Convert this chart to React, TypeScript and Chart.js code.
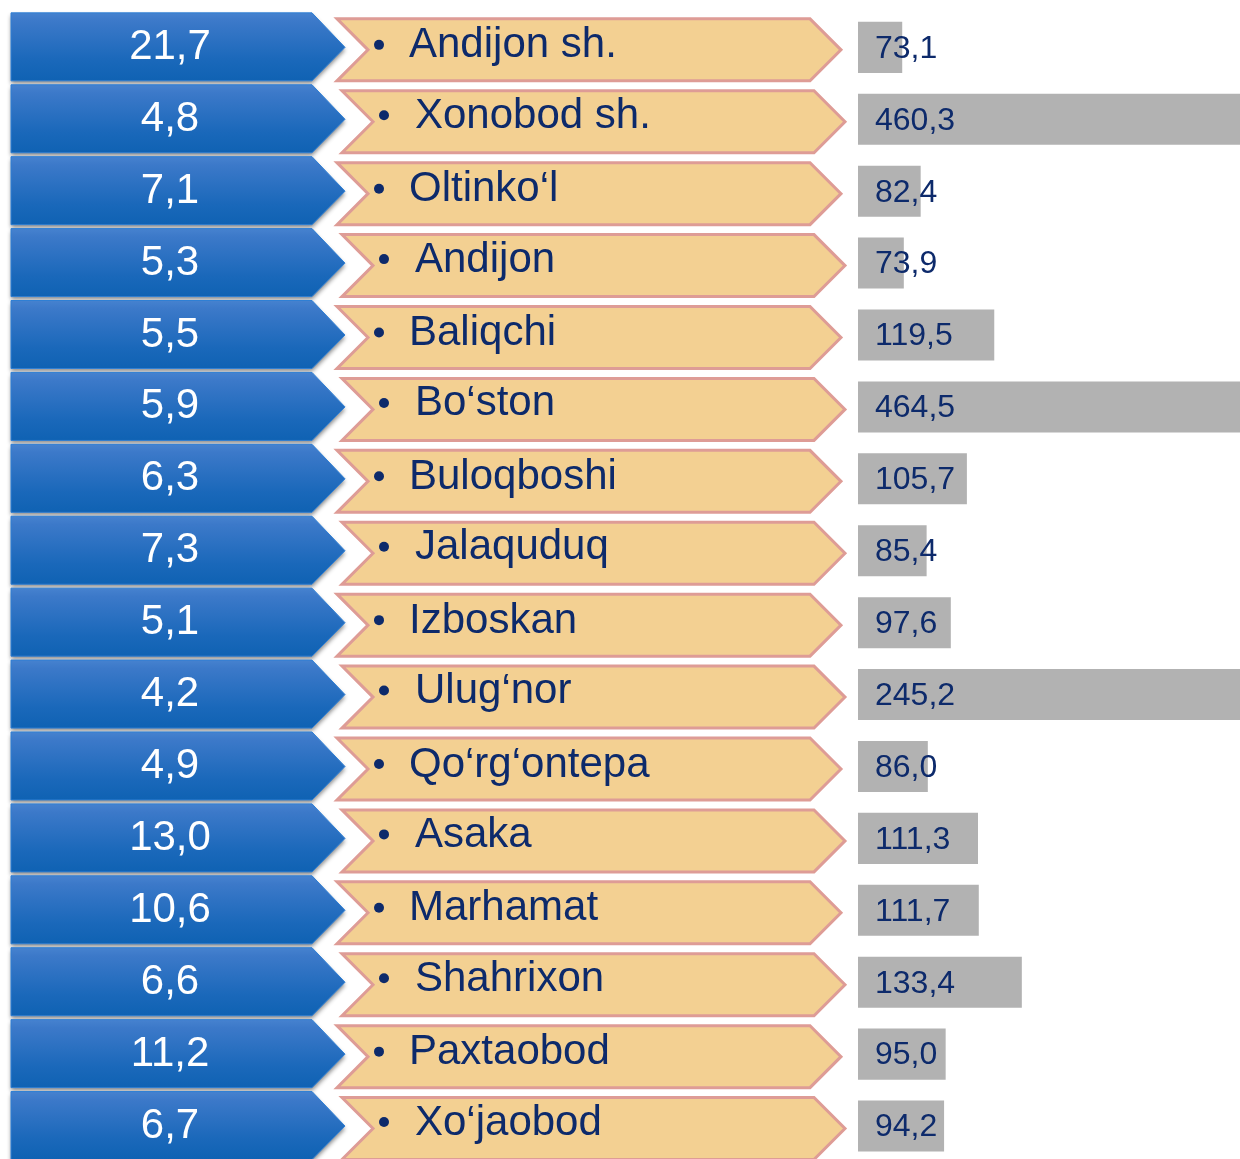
import React, { useEffect, useRef } from "react";
import { Chart, registerables } from "chart.js";

Chart.register(...registerables);

const districts = [
  "Andijon sh.",
  "Xonobod sh.",
  "Oltinko‘l",
  "Andijon",
  "Baliqchi",
  "Bo‘ston",
  "Buloqboshi",
  "Jalaquduq",
  "Izboskan",
  "Ulug‘nor",
  "Qo‘rg‘ontepa",
  "Asaka",
  "Marhamat",
  "Shahrixon",
  "Paxtaobod",
  "Xo‘jaobod",
];

const shareValues = [21.7, 4.8, 7.1, 5.3, 5.5, 5.9, 6.3, 7.3, 5.1, 4.2, 4.9, 13.0, 10.6, 6.6, 11.2, 6.7];

const growthValues = [73.1, 460.3, 82.4, 73.9, 119.5, 464.5, 105.7, 85.4, 97.6, 245.2, 86.0, 111.3, 111.7, 133.4, 95.0, 94.2];

const FONT = "'Liberation Sans', Arial, Helvetica, sans-serif";
const NAVY = "#0d2a6b";

const fmt = (v: number) => v.toFixed(1).replace(".", ",");

const shapesPlugin = {
  id: "shapes",
  beforeDatasetsDraw(chart: any) {
    const ctx = chart.ctx as CanvasRenderingContext2D;
    const y = chart.scales.y;
    districts.forEach((name, i) => {
      const cy = y.getPixelForValue(i);
      const odd = i % 2 === 1;

      // blue arrow
      const top = cy - 34.5;
      const bot = cy + 33.5;
      ctx.save();
      const g = ctx.createLinearGradient(0, top, 0, bot);
      g.addColorStop(0, "#4682cf");
      g.addColorStop(0.12, "#3c79c9");
      g.addColorStop(0.7, "#1a68ba");
      g.addColorStop(1, "#0f62b3");
      ctx.shadowColor = "rgba(0,0,0,0.45)";
      ctx.shadowBlur = 4;
      ctx.shadowOffsetX = 0;
      ctx.shadowOffsetY = 3;
      ctx.beginPath();
      ctx.moveTo(11, top);
      ctx.lineTo(312, top);
      ctx.lineTo(345, cy);
      ctx.lineTo(312, bot);
      ctx.lineTo(11, bot);
      ctx.closePath();
      ctx.fillStyle = g;
      ctx.fill();
      ctx.shadowColor = "transparent";
      ctx.lineWidth = 1;
      ctx.strokeStyle = "#2f7fd4";
      ctx.stroke();
      ctx.restore();

      ctx.save();
      ctx.fillStyle = "#ffffff";
      ctx.font = `42px ${FONT}`;
      ctx.textAlign = "center";
      ctx.textBaseline = "middle";
      ctx.fillText(fmt(shareValues[i]), 170, cy);
      ctx.restore();

      // tan chevron
      const ccy = cy + 2.5;
      const h = 31;
      const left = odd ? 342 : 337;
      const rc = odd ? 814 : 810;
      ctx.save();
      ctx.beginPath();
      ctx.moveTo(left, ccy - h);
      ctx.lineTo(rc, ccy - h);
      ctx.lineTo(rc + h, ccy);
      ctx.lineTo(rc, ccy + h);
      ctx.lineTo(left, ccy + h);
      ctx.lineTo(left + h, ccy);
      ctx.closePath();
      ctx.fillStyle = "#f3d092";
      ctx.fill();
      ctx.lineWidth = 3;
      ctx.lineJoin = "miter";
      ctx.strokeStyle = "#de9c96";
      ctx.stroke();
      ctx.restore();

      const ty = cy - (odd ? 3 : 1.5);
      ctx.save();
      ctx.fillStyle = NAVY;
      ctx.beginPath();
      ctx.arc(odd ? 384 : 379, ty - 1, 5, 0, Math.PI * 2);
      ctx.fill();
      ctx.font = `42px ${FONT}`;
      ctx.textAlign = "left";
      ctx.textBaseline = "middle";
      ctx.fillText(name, odd ? 415 : 409, ty);
      ctx.restore();
    });
  },
  afterDatasetsDraw(chart: any) {
    const ctx = chart.ctx as CanvasRenderingContext2D;
    const y = chart.scales.y;
    ctx.save();
    ctx.fillStyle = NAVY;
    ctx.font = `32px ${FONT}`;
    ctx.textAlign = "left";
    ctx.textBaseline = "middle";
    growthValues.forEach((v, i) => {
      const cy = y.getPixelForValue(i);
      ctx.fillText(fmt(v), 875, cy + 1.5);
    });
    ctx.restore();
  },
};

export default function App() {
  const ref = useRef<HTMLCanvasElement | null>(null);

  useEffect(() => {
    if (!ref.current) return;
    const chart = new Chart(ref.current, {
      type: "bar",
      data: {
        labels: districts,
        datasets: [
          {
            data: growthValues,
            backgroundColor: "#b2b2b2",
            borderWidth: 0,
            categoryPercentage: 1,
            barPercentage: 0.71,
          },
        ],
      },
      options: {
        indexAxis: "y",
        responsive: false,
        animation: false,
        devicePixelRatio: 1,
        layout: { padding: { left: 858, right: 0, top: 11.4, bottom: 0 } },
        plugins: {
          legend: { display: false },
          tooltip: { enabled: false },
          title: { display: false },
        },
        scales: {
          x: { display: false, min: 50.8, max: 243.4 },
          y: { display: false },
        },
      },
      plugins: [shapesPlugin],
    });
    return () => chart.destroy();
  }, []);

  return (
    <div style={{ position: "absolute", left: 0, top: 0, width: 1240, height: 1159, overflow: "hidden", background: "#fff" }}>
      <canvas ref={ref} width={1240} height={1162} style={{ display: "block" }} />
    </div>
  );
}
